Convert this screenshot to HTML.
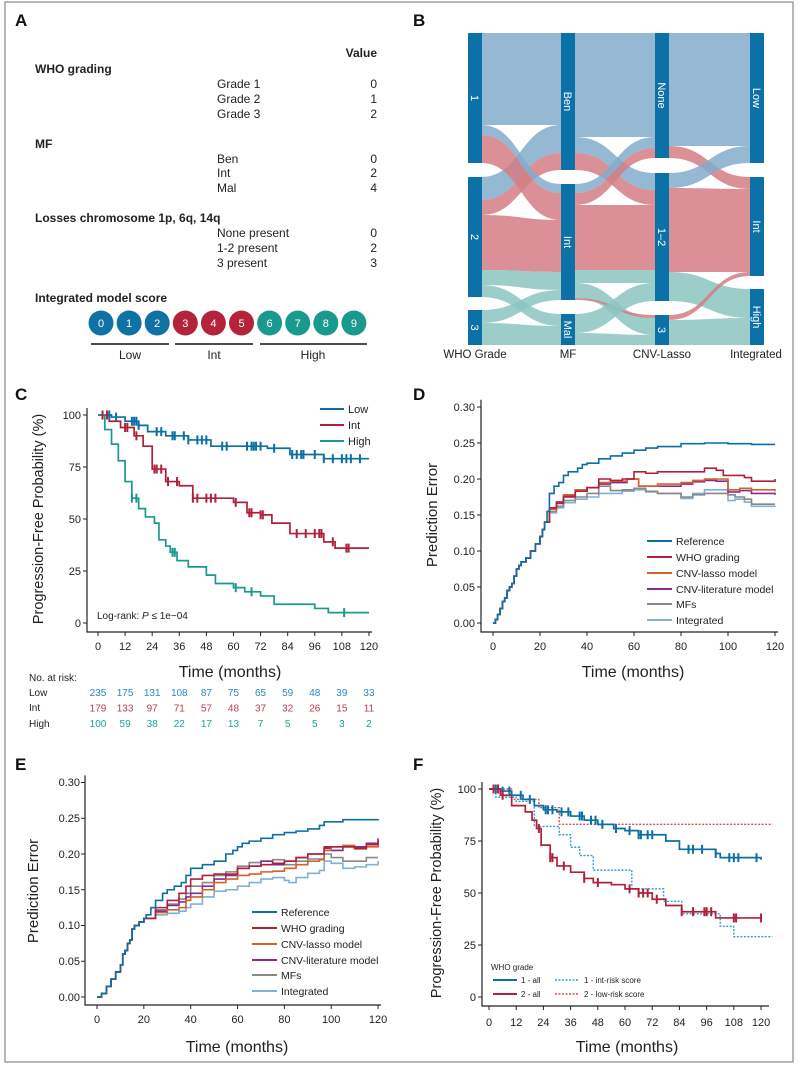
<!DOCTYPE html>
<html><head><meta charset="utf-8"><style>
body{margin:0;background:#fff}
svg{display:block;font-family:"Liberation Sans",Arial,sans-serif}
</style></head><body>
<svg id="s" width="799" height="1070" viewBox="0 0 799 1070" xmlns="http://www.w3.org/2000/svg">
<rect x="0" y="0" width="799" height="1070" fill="#fff"/>
<rect x="5" y="2" width="788" height="1060" fill="none" stroke="#888" stroke-width="1.2"/>
<g id="flows"></g>
<g font-weight="bold" font-size="17" fill="#111">
<text x="15" y="26">A</text><text x="413" y="26">B</text><text x="15" y="400">C</text><text x="413" y="400">D</text><text x="15" y="770">E</text><text x="413" y="770">F</text>
</g>
<!-- Panel A -->
<g font-size="12" fill="#222">
<text x="377" y="57" text-anchor="end" font-weight="bold">Value</text>
<text x="35" y="73" font-weight="bold">WHO grading</text>
<text x="217" y="88">Grade 1</text><text x="217" y="103">Grade 2</text><text x="217" y="118">Grade 3</text>
<text x="35" y="148" font-weight="bold">MF</text>
<text x="217" y="163">Ben</text><text x="217" y="177">Int</text><text x="217" y="192">Mal</text>
<text x="35" y="222" font-weight="bold">Losses chromosome 1p, 6q, 14q</text>
<text x="217" y="237">None present</text><text x="217" y="252">1-2 present</text><text x="217" y="267">3 present</text>
<text x="35" y="302" font-weight="bold">Integrated model score</text>
<g text-anchor="end"><text x="377" y="88">0</text><text x="377" y="103">1</text><text x="377" y="118">2</text><text x="377" y="163">0</text><text x="377" y="177">2</text><text x="377" y="192">4</text><text x="377" y="237">0</text><text x="377" y="252">2</text><text x="377" y="267">3</text></g>
</g>
<g id="circ" font-size="11" fill="#fff" text-anchor="middle"></g>
<g stroke="#111" stroke-width="1.5"><line x1="91" y1="344" x2="169" y2="344"/><line x1="175" y1="344" x2="253" y2="344"/><line x1="260" y1="344" x2="367" y2="344"/></g>
<g font-size="12" fill="#222" text-anchor="middle"><text x="130" y="359">Low</text><text x="214" y="359">Int</text><text x="313" y="359">High</text></g>
<!-- Panel B labels -->
<g font-size="11.5" fill="#222" text-anchor="middle"><text x="475" y="358">WHO Grade</text><text x="568" y="358">MF</text><text x="662" y="358">CNV-Lasso</text><text x="756" y="358">Integrated</text></g>
<g id="plots" fill="none"></g>
<!-- Panel C text -->
<g font-size="11" fill="#222">
<g text-anchor="end"><text x="81" y="419">100</text><text x="81" y="471">75</text><text x="81" y="523">50</text><text x="81" y="575">25</text><text x="81" y="627">0</text></g>
<g id="cx" text-anchor="middle"></g>
<text x="348" y="413">Low</text><text x="348" y="429">Int</text><text x="348" y="445">High</text>
<text x="97" y="619" font-size="10">Log-rank: <tspan font-style="italic">P</tspan> ≤ 1e−04</text>
<text x="29" y="681" font-size="10">No. at risk:</text>
<text x="29" y="696" font-size="10">Low</text><text x="29" y="711" font-size="10">Int</text><text x="29" y="727" font-size="10">High</text>
</g>
<g id="risk" font-size="10" text-anchor="middle"></g>
<text x="230" y="677" font-size="16" text-anchor="middle" fill="#222">Time (months)</text>
<text transform="translate(43,519) rotate(-90)" font-size="14.5" text-anchor="middle" fill="#222">Progression-Free Probability (%)</text>
<!-- Panel D text -->
<g font-size="11" fill="#222" text-anchor="end"><text x="475" y="411">0.30</text><text x="475" y="447">0.25</text><text x="475" y="483">0.20</text><text x="475" y="519">0.15</text><text x="475" y="555">0.10</text><text x="475" y="591">0.05</text><text x="475" y="627">0.00</text></g>
<g id="dx" font-size="11" fill="#222" text-anchor="middle"></g>
<text x="633" y="677" font-size="16" text-anchor="middle" fill="#222">Time (months)</text>
<text transform="translate(437,515) rotate(-90)" font-size="15" text-anchor="middle" fill="#222">Prediction Error</text>
<g font-size="10.5" fill="#222"><text x="676" y="545">Reference</text><text x="676" y="561">WHO grading</text><text x="676" y="577">CNV-lasso model</text><text x="676" y="593">CNV-literature model</text><text x="676" y="608">MFs</text><text x="676" y="624">Integrated</text></g>
<!-- Panel E text -->
<g font-size="11" fill="#222" text-anchor="end"><text x="80" y="786">0.30</text><text x="80" y="822">0.25</text><text x="80" y="858">0.20</text><text x="80" y="894">0.15</text><text x="80" y="929">0.10</text><text x="80" y="965">0.05</text><text x="80" y="1001">0.00</text></g>
<g id="ex" font-size="11" fill="#222" text-anchor="middle"></g>
<text x="237" y="1052" font-size="16" text-anchor="middle" fill="#222">Time (months)</text>
<text transform="translate(38,891) rotate(-90)" font-size="15" text-anchor="middle" fill="#222">Prediction Error</text>
<g font-size="10.5" fill="#222"><text x="281" y="916">Reference</text><text x="281" y="932">WHO grading</text><text x="281" y="948">CNV-lasso model</text><text x="281" y="964">CNV-literature model</text><text x="281" y="979">MFs</text><text x="281" y="995">Integrated</text></g>
<!-- Panel F text -->
<g font-size="11" fill="#222" text-anchor="end"><text x="476" y="793">100</text><text x="476" y="845">75</text><text x="476" y="897">50</text><text x="476" y="949">25</text><text x="476" y="1001">0</text></g>
<g id="fx" font-size="11" fill="#222" text-anchor="middle"></g>
<text x="627" y="1052" font-size="16" text-anchor="middle" fill="#222">Time (months)</text>
<text transform="translate(441,893) rotate(-90)" font-size="14.5" text-anchor="middle" fill="#222">Progression-Free Probability (%)</text>
<g font-size="8" fill="#222"><text x="491" y="970">WHO grade</text><text x="521" y="983">1 - all</text><text x="521" y="997">2 - all</text><text x="584" y="983">1 - int-risk score</text><text x="584" y="997">2 - low-risk score</text></g>
</svg>
<script>
var NS="http://www.w3.org/2000/svg";
function el(p,t,a){var e=document.createElementNS(NS,t);for(var k in a)e.setAttribute(k,a[k]);document.getElementById(p).appendChild(e);return e;}
function txt(p,x,y,s,fill){var e=el(p,"text",{x:x,y:y});if(fill)e.setAttribute("fill",fill);e.textContent=s;}
var cc=["#0f72a4","#0f72a4","#0f72a4","#b3243a","#b3243a","#b3243a","#1a9a8e","#1a9a8e","#1a9a8e","#1a9a8e"];
for(var i=0;i<10;i++){var cx=101+i*28.1;el("circ","circle",{cx:cx,cy:323,r:12.5,fill:cc[i]});txt("circ",cx,327,String(i));}
var B="#82abcb",R="#d47c84",T="#8cc4bf";
function band(x0,x1,a0,b0,a1,b1,c){var m=(x0+x1)/2;el("flows","path",{d:"M"+x0+" "+a0+"C"+m+" "+a0+" "+m+" "+a1+" "+x1+" "+a1+"L"+x1+" "+b1+"C"+m+" "+b1+" "+m+" "+b0+" "+x0+" "+b0+"Z",fill:c,"fill-opacity":0.85});}
var x1=481,x2=561;
band(x1,x2,33,125,33,125,B);band(x1,x2,177,200,125,153,B);band(x1,x2,200,215,153,170,R);
band(x1,x2,125,135,184,193,B);band(x1,x2,135,163,193,220,R);band(x1,x2,215,270,220,272,R);
band(x1,x2,270,285,272,290,T);band(x1,x2,310,323,290,300,T);band(x1,x2,285,297,314,326,T);band(x1,x2,323,345,326,345,T);
x1=575;x2=655;
band(x1,x2,33,137,33,137,B);band(x1,x2,137,153,173,190,B);band(x1,x2,153,170,190,205,R);
band(x1,x2,184,193,137,148,B);band(x1,x2,193,205,148,158,R);band(x1,x2,205,270,205,270,R);
band(x1,x2,270,283,270,283,T);band(x1,x2,283,298,318,335,T);band(x1,x2,298,300,315,318,R);
band(x1,x2,314,333,283,301,T);band(x1,x2,333,345,335,345,T);
x1=669;x2=750;
band(x1,x2,33,146,33,146,B);band(x1,x2,146,158,177,189,R);band(x1,x2,173,188,146,163,B);
band(x1,x2,188,272,189,272,R);band(x1,x2,272,301,289,318,T);band(x1,x2,315,320,272,276,R);band(x1,x2,320,345,318,345,T);
var N="#0c71a6";
[[468,33,163,"1"],[468,177,297,"2"],[468,310,345,"3"],[561,33,170,"Ben"],[561,184,300,"Int"],[561,314,345,"Mal"],[655,33,158,"None"],[655,173,301,"1–2"],[655,315,345,"3"],[750,33,163,"Low"],[750,177,276,"Int"],[750,289,345,"High"]].forEach(function(n){
el("flows","rect",{x:n[0],y:n[1],width:14,height:n[2]-n[1],fill:N});
var cy=(n[1]+n[2])/2;var t=el("flows","text",{x:0,y:0,transform:"translate("+(n[0]+3)+","+cy+") rotate(90)","text-anchor":"middle",fill:"#fff","font-size":"11"});t.textContent=n[3];});
function step(pts,X,Y){var d="M"+X(pts[0][0])+" "+Y(pts[0][1]);for(var i=1;i<pts.length;i++){d+="H"+X(pts[i][0])+"V"+Y(pts[i][1]);}return d;}
function line(d,c,w,dash){var a={d:d,stroke:c,"stroke-width":w||1.6,fill:"none"};if(dash)a["stroke-dasharray"]=dash;el("plots","path",a);}
function axes(x0,y0,x1,y1,tx,ty){line("M"+x0+" "+y1+"V"+y0+"H"+x1,"#222",1.2);tx.forEach(function(x){line("M"+x+" "+y0+"v4","#222",1);});ty.forEach(function(y){line("M"+x0+" "+y+"h-4","#222",1);});}
function pairs(a){var r=[];for(var i=0;i<a.length;i+=2)r.push([a[i],a[i+1]]);return r;}
var BL="#0b6fa4",RD="#b0203a",TL="#1a9a8e";
var Xc=function(m){return 98+m*2.258},Yc=function(p){return 623-p*2.08};
var tc=[];for(var m=0;m<=120;m+=12){tc.push(Xc(m));}
axes(87,632,372,408,tc,[415,467,519,571,623]);
tc.forEach(function(x,i){txt("cx",x,650,String(i*12));});
var low=pairs([0,100,6,99,12,97,18,95,22,92,30,90,40,88,50,85,60,85,75,84,85,81,100,79,120,79]);
var intc=pairs([0,100,5,97,10,94,16,90,20,85,24,74,30,68,36,66,42,60,60,58,66,53,72,52,77,48,85,43,100,39,105,36,120,36]);
var high=pairs([0,100,3,93,6,86,9,78,12,68,15,60,18,55,21,51,25,48,27,40,30,37,32,34,35,30,40,27,48,23,52,19,60,17,65,15,72,13,78,9,96,7,102,5,120,5]);
line(step(low,Xc,Yc),BL,1.7);line(step(intc,Xc,Yc),RD,1.7);line(step(high,Xc,Yc),TL,1.7);
function cens(pts,ms,X,Y,c){ms.forEach(function(m){var v=pts[0][1];for(var i=0;i<pts.length;i++){if(pts[i][0]<=m)v=pts[i][1];}line("M"+X(m)+" "+(Y(v)-4.5)+"v9",c,2);});}
cens(low,[2,5,8,15,16,17,18,26,28,33,34,38,40,44,46,48,55,57,66,68,69,70,72,78,86,88,90,91,96,100,104,108,110,112,116],Xc,Yc,BL);
cens(intc,[2,4,12,13,17,25,26,28,31,35,42,44,48,50,52,61,67,68,72,73,88,92,96,98,99,104,110,111],Xc,Yc,RD);
cens(high,[15,17,33,34,61,68,109],Xc,Yc,TL);
line("M320 409h24",BL,2);line("M320 425h24",RD,2);line("M320 441h24",TL,2);
var rl=[[235,175,131,108,87,75,65,59,48,39,33],[179,133,97,71,57,48,37,32,26,15,11],[100,59,38,22,17,13,7,5,5,3,2]];
var rc=["#2a88c0","#c0394b","#1aa59a"];
rl.forEach(function(r,j){r.forEach(function(v,i){txt("risk",tc[i],696+j*15.5,String(v),rc[j]);});});
var cols=["#0b6fa4","#b0203a","#d2622a","#8a2a8c","#888888","#7fb0d6"];
function perr(id,x0,xs,y0,ys,axY,axX1,series,gx){
 var X=function(m){return x0+m*xs},Y=function(v){return y0-v*ys};
 var t=[];for(var m=0;m<=120;m+=20)t.push(X(m));
 var yt=[];for(var k=0;k<=6;k++)yt.push(Y(k*0.05));
 axes(x0-12,axY,axX1,Y(0.31),t,yt);
 t.forEach(function(x,i){txt(id,x,axY+18,String(i*20));});
 for(var s=5;s>=0;s--){var p=pairs(series[s]);var d=step(p,X,Y);line(d,cols[s],1.6);}
 for(var s=0;s<6;s++){line("M"+gx[0]+" "+gx[1+s]+"h25",cols[s],2);}
}
var eD=[0,0,1,.005,2,.012,3,.02,4,.03,5,.035,6,.045,7,.05,8,.055,9,.065,10,.075,11,.08,12,.085,14,.09,16,.1,18,.11,20,.12,21,.13,22,.14];
var sD=[
eD.concat([23,.155,24,.18,26,.19,28,.195,30,.205,32,.21,36,.215,38,.22,40,.222,45,.228,50,.232,55,.236,60,.24,65,.243,70,.245,80,.249,90,.25,100,.249,110,.248,120,.248]),
eD.concat([24,.16,27,.168,30,.175,35,.183,40,.188,45,.2,50,.198,55,.2,60,.21,65,.208,70,.21,75,.21,80,.21,85,.21,90,.215,95,.212,98,.205,103,.205,107,.202,110,.197,120,.2]),
eD.concat([24,.158,27,.168,30,.178,35,.185,40,.188,45,.195,50,.197,57,.2,62,.19,70,.193,80,.195,85,.198,90,.2,95,.2,100,.185,105,.187,110,.185,120,.183]),
eD.concat([24,.158,27,.166,30,.176,35,.184,40,.188,45,.193,50,.195,57,.2,62,.19,70,.19,80,.193,85,.196,90,.198,95,.197,100,.182,105,.184,110,.18,120,.178]),
eD.concat([24,.155,27,.162,30,.17,35,.175,40,.18,45,.19,50,.184,55,.185,60,.187,65,.183,70,.18,80,.175,85,.178,90,.18,100,.178,103,.175,107,.172,110,.165,120,.165]),
eD.concat([24,.153,27,.16,30,.167,35,.172,40,.175,45,.18,50,.18,55,.183,60,.185,65,.182,70,.18,80,.173,85,.18,90,.185,95,.185,100,.17,103,.172,107,.168,110,.162,120,.163])];
perr("dx",493,2.35,623,720,632,778,sD,[647,541,557,573,589,604,620]);
var eE=[0,0,2,.005,4,.015,6,.025,8,.035,10,.045,11,.06,12,.065,13,.075,14,.08,15,.095,16,.1,18,.105,20,.11];
var sE=[
eE.concat([21,.115,23,.125,25,.135,28,.145,30,.15,33,.155,36,.16,38,.17,40,.18,45,.185,50,.19,55,.2,58,.205,60,.21,62,.215,65,.218,70,.222,75,.227,80,.23,85,.232,90,.235,95,.24,97,.245,105,.248,120,.249]),
eE.concat([25,.125,30,.135,35,.145,38,.155,40,.165,45,.17,50,.172,55,.172,60,.18,65,.183,70,.185,75,.187,80,.19,85,.195,90,.2,95,.2,97,.21,100,.21,105,.21,110,.208,115,.213,120,.218]),
eE.concat([25,.118,30,.122,35,.125,38,.135,40,.14,45,.15,50,.16,55,.165,60,.17,65,.172,70,.175,75,.176,80,.18,85,.185,90,.19,95,.192,97,.205,100,.21,105,.212,110,.207,115,.21,120,.216]),
eE.concat([25,.12,30,.128,35,.133,38,.14,40,.145,45,.155,50,.165,55,.17,60,.18,65,.183,70,.19,75,.185,80,.19,85,.195,90,.2,95,.2,97,.208,100,.205,105,.21,110,.21,115,.215,120,.222]),
eE.concat([25,.122,30,.13,35,.137,38,.145,40,.155,45,.16,50,.17,55,.175,60,.183,65,.188,70,.19,75,.192,80,.185,85,.19,90,.193,95,.193,97,.2,100,.195,105,.19,110,.19,115,.195,120,.195]),
eE.concat([25,.115,30,.117,35,.12,38,.125,40,.13,45,.14,50,.148,55,.15,60,.155,65,.16,70,.165,75,.167,80,.163,82,.16,85,.167,90,.173,95,.177,97,.19,100,.187,105,.18,110,.182,115,.185,120,.19])];
perr("ex",97,2.342,997,715,1005,381,sE,[252,912,928,944,960,975,991]);
var Xf=function(m){return 489+m*2.267},Yf=function(p){return 997-p*2.08};
var tf=[];for(var m=0;m<=120;m+=12)tf.push(Xf(m));
axes(482,1006,769,782,tf,[789,841,893,945,997]);
tf.forEach(function(x,i){txt("fx",x,1026,String(i*12));});
var f1=pairs([0,100,5,99,10,97,15,95,20,92,24,90,30,89,36,87,42,85,48,83,55,81,60,80,66,78,78,75,84,71,100,69,102,67,120,66]);
var f2=pairs([0,100,5,97,10,92,16,89,19,85,21,81,23,73,27,67,30,63,36,60,42,57,46,55,54,54,60,52,66,50,72,47,78,44,85,41,100,38,120,38]);
var f3=pairs([0,100,3,96,12,94,20,82,30,82,31,78,36,72,40,68,46,61,60,61,63,52,76,52,77,46,85,40,100,40,102,34,108,29,125,29]);
var f4=pairs([0,100,10,95,20,95,22,91,28,91,31,83,125,83]);
line(step(f3,Xf,Yf),"#3a9ad0",1.4,"2 1.5");line(step(f4,Xf,Yf),"#d0505e",1.4,"2 1.5");
line(step(f1,Xf,Yf),BL,1.7);line(step(f2,Xf,Yf),RD,1.7);
cens(f1,[3,6,9,14,18,25,26,28,32,35,40,41,45,47,50,56,62,66,67,70,72,88,90,94,100,106,108,110,118],Xf,Yf,BL);
cens(f2,[2,4,6,22,27,28,33,42,48,62,66,68,70,74,85,90,95,96,98,108,109,120],Xf,Yf,RD);
line("M493 980h24",BL,2);line("M493 994h24",RD,2);line("M555 980h24","#3a9ad0",1.4,"2 1.5");line("M555 994h24","#d0505e",1.4,"2 1.5");
</script>
</body></html>
